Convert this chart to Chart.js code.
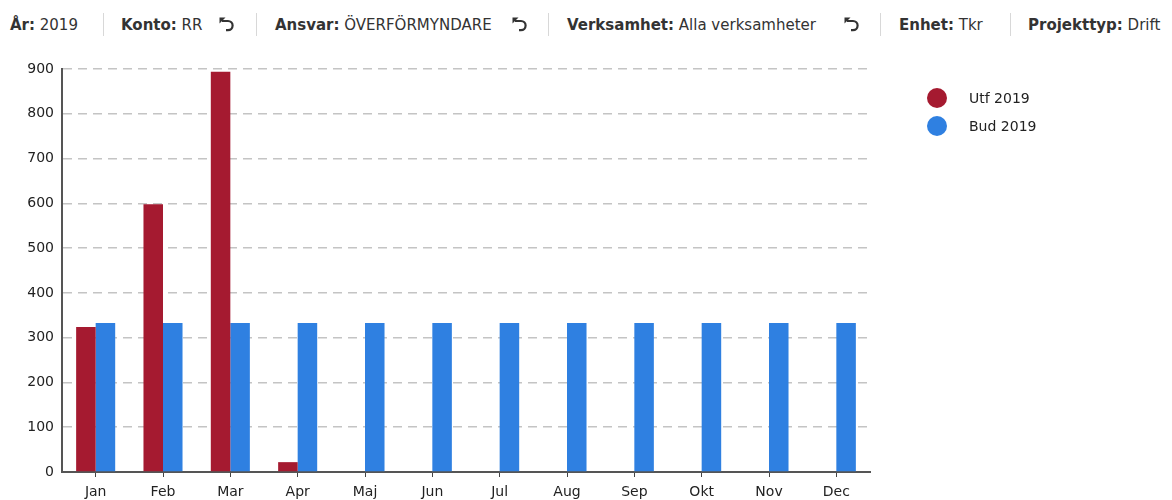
<!DOCTYPE html>
<html lang="sv">
<head>
<meta charset="utf-8">
<script src="https://cdn.jsdelivr.net/npm/chart.js@4/dist/chart.umd.min.js"></script>
<style>
  html, body { margin: 0; padding: 0; background: #fff; }
  body { width: 1172px; height: 500px; position: relative; overflow: hidden; font-family: "DejaVu Sans", sans-serif; color: #333; }
  .filter { position: absolute; top: 14px; font-size: 15px; line-height: 22px; white-space: nowrap; }
  .filter b { font-weight: bold; }
  .sep { position: absolute; top: 13px; width: 1px; height: 23px; background: #d8d8d8; }
  .undo { position: absolute; top: 16px; width: 17px; height: 16px; }
  #wrap { position: absolute; left: 0; top: 50px; width: 1172px; height: 450px; }
  #legend { position: absolute; left: 927px; top: 84px; font-size: 14px; color: #222; }
  .leg-item { display: flex; align-items: center; height: 28px; }
  .leg-dot { width: 20px; height: 20px; border-radius: 50%; margin-right: 22px; }
</style>
</head>
<body>
<div class="filter" style="left:10px"><b>År:</b> 2019</div>
<div class="sep" style="left:103px"></div>
<div class="filter" style="left:121px"><b>Konto:</b> RR</div>
<svg class="undo" style="left:218px" viewBox="0 0 17 16"><path d="M4 5 H10 A4.6 4.6 0 0 1 10 14.2 H8" fill="none" stroke="#333" stroke-width="2.2"/><path d="M1.5 1.5 L7.5 1.5 L1.5 7.5 Z" fill="#333"/></svg>
<div class="sep" style="left:256px"></div>
<div class="filter" style="left:275px"><b>Ansvar:</b> ÖVERFÖRMYNDARE</div>
<svg class="undo" style="left:511px" viewBox="0 0 17 16"><path d="M4 5 H10 A4.6 4.6 0 0 1 10 14.2 H8" fill="none" stroke="#333" stroke-width="2.2"/><path d="M1.5 1.5 L7.5 1.5 L1.5 7.5 Z" fill="#333"/></svg>
<div class="sep" style="left:548px"></div>
<div class="filter" style="left:567px"><b>Verksamhet:</b> Alla verksamheter</div>
<svg class="undo" style="left:843px" viewBox="0 0 17 16"><path d="M4 5 H10 A4.6 4.6 0 0 1 10 14.2 H8" fill="none" stroke="#333" stroke-width="2.2"/><path d="M1.5 1.5 L7.5 1.5 L1.5 7.5 Z" fill="#333"/></svg>
<div class="sep" style="left:880px"></div>
<div class="filter" style="left:899px"><b>Enhet:</b> Tkr</div>
<div class="sep" style="left:1010px"></div>
<div class="filter" style="left:1028px"><b>Projekttyp:</b> Drift</div>

<div id="wrap"><canvas id="grafico"></canvas></div>
<div id="legend"></div>

<script>
const manader = ['Jan', 'Feb', 'Mar', 'Apr', 'Maj', 'Jun', 'Jul', 'Aug', 'Sep', 'Okt', 'Nov', 'Dec']
const utfall2019 = [324, 598, 894, 22, null, null, null, null, null, null, null, null]
const budget2019 = [333, 333, 333, 333, 333, 333, 333, 333, 333, 333, 333, 333]
const yTicks = [0, 100, 200, 300, 400, 500, 600, 700, 800, 900]

const fonte = { family: '"DejaVu Sans", sans-serif', size: 14 }

const grafico = new Chart(document.getElementById('grafico'), {
  type: 'bar',
  data: {
    labels: manader,
    datasets: [
      { label: 'Utf 2019', data: utfall2019, backgroundColor: '#a51a30' },
      { label: 'Bud 2019', data: budget2019, backgroundColor: '#2f80e1' }
    ]
  },
  options: {
    responsive: true,
    maintainAspectRatio: false,
    animation: false,
    layout: { padding: { top: 19, right: 302, bottom: 0, left: 0 } },
    datasets: { bar: { categoryPercentage: 0.58, barPercentage: 1 } },
    scales: {
      x: {
        afterFit: s => { s.height = 28 },
        grid: { offset: false, drawOnChartArea: false, drawTicks: true, tickLength: 5, tickColor: '#444' },
        border: { color: '#555', width: 2 },
        ticks: { color: '#222', font: fonte, padding: 7 }
      },
      y: {
        min: 0,
        max: 900,
        afterFit: s => { s.width = 62 },
        afterBuildTicks: s => { s.ticks = yTicks.map(v => ({ value: v })) },
        grid: { color: '#c4c4c4', drawTicks: false, lineWidth: 1.5 },
        border: { color: '#555', width: 2, dash: [9, 6] },
        ticks: { color: '#222', font: fonte, padding: 8 }
      }
    },
    plugins: { legend: { display: false }, tooltip: { enabled: false } }
  }
})

// legenda em HTML, a partir dos datasets do gráfico
document.getElementById('legend').innerHTML = grafico.data.datasets
  .map(d => `<div class="leg-item"><span class="leg-dot" style="background:${d.backgroundColor}"></span>${d.label}</div>`)
  .join('')
</script>
</body>
</html>
